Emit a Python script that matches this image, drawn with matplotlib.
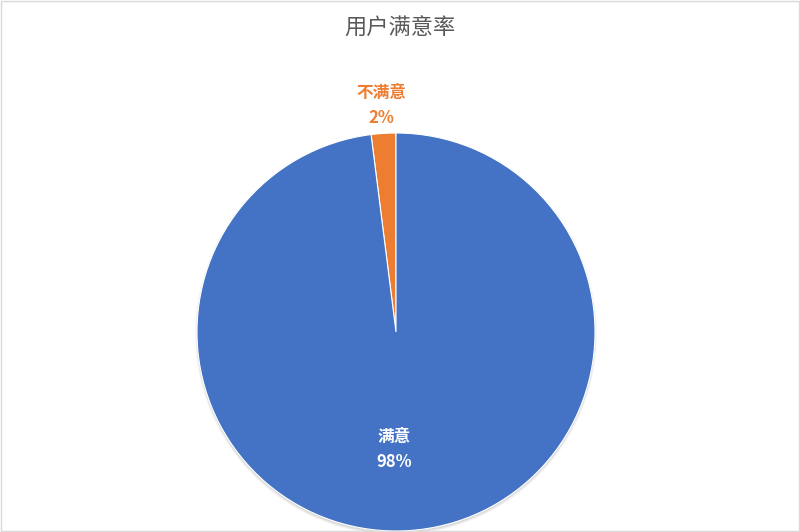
import numpy as np
import matplotlib
matplotlib.use('Agg')
import matplotlib.pyplot as plt
import matplotlib.patches as patches

plt.rcParams['font.family'] = ['Noto Sans CJK SC', 'DejaVu Sans']

# data
categories = ['不满意', '满意']
values = [2, 98]
colors = ['#ED7D31', '#4472C4']
label_colors = ['#ED7D31', '#FFFFFF']
title = '用户满意率'

fig = plt.figure(figsize=(8, 5.32), dpi=100)
ax = fig.add_axes([0, 0, 1, 1])

cx, cy, r = 396, 200, 199

# soft shadow behind the pie
for i, a in enumerate([0.04, 0.05, 0.06]):
    ax.add_patch(patches.Circle((cx, cy - 2), r + 2 - i, color='black', alpha=a, lw=0))

wedges, _ = ax.pie(values, colors=colors, startangle=90, counterclock=True,
                   center=(cx, cy), radius=r, frame=True,
                   wedgeprops=dict(linewidth=0.8, edgecolor='white'))
ax.set_xlim(0, 800)
ax.set_ylim(0, 532)
ax.set_aspect('equal')
ax.axis('off')

# label placement (distance from centre as fraction of radius, x nudge in px)
dists = [1.145, 0.59]
nudges = [0, -9]
total = sum(values)
for w, cat, v, lc, d, dx in zip(wedges, categories, values, label_colors, dists, nudges):
    ang = np.deg2rad((w.theta1 + w.theta2) / 2)
    x = cx + d * r * np.cos(ang) + dx
    y = cy + d * r * np.sin(ang)
    ax.text(x, y + 12, cat, color=lc, fontsize=12, fontweight='bold',
            ha='center', va='center')
    ax.text(x, y - 13, f'{round(v / total * 100)}%', color=lc, fontsize=12,
            fontweight='bold', ha='center', va='center')

fig.text(0.5, 1 - 28 / 532, title, fontsize=16, color='#595959',
         ha='center', va='center')

# outer frame
fig.patches.append(patches.Rectangle((0.001, 0.001), 0.998, 0.997, transform=fig.transFigure,
                                     fill=False, edgecolor='#D9D9D9', lw=1))

fig.savefig('out.png', dpi=100)
